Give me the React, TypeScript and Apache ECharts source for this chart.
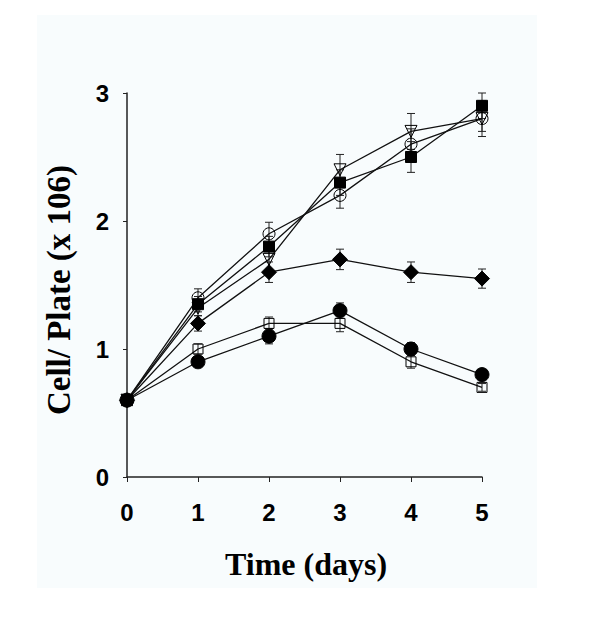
import React, { useEffect, useRef } from "react";
import * as echarts from "echarts";

const days = [0, 1, 2, 3, 4, 5];
const xTicks = ["0", "1", "2", "3", "4", "5"];
const yTicks = [0, 1, 2, 3];

const openCircle = [0.6, 1.4, 1.9, 2.2, 2.6, 2.8];
const openCircleErr = [0, 0.07, 0.09, 0.1, 0.12, 0.14];
const filledSquare = [0.6, 1.35, 1.8, 2.3, 2.5, 2.9];
const filledSquareErr = [0, 0.06, 0.08, 0.1, 0.12, 0.1];
const openTriangle = [0.6, 1.32, 1.7, 2.4, 2.7, 2.8];
const openTriangleErr = [0, 0.06, 0.08, 0.12, 0.14, 0.1];
const filledDiamond = [0.6, 1.2, 1.6, 1.7, 1.6, 1.55];
const filledDiamondErr = [0, 0.06, 0.08, 0.08, 0.08, 0.075];
const openSquare = [0.6, 1.0, 1.2, 1.2, 0.9, 0.7];
const openSquareErr = [0, 0.04, 0.05, 0.065, 0.05, 0.03];
const filledCircle = [0.6, 0.9, 1.1, 1.3, 1.0, 0.8];
const filledCircleErr = [0, 0.04, 0.06, 0.06, 0.05, 0.03];

const seriesDefs = [
  { name: "open circle", values: openCircle, err: openCircleErr, symbol: "circle", size: 12, filled: false, rotate: 0 },
  { name: "filled square", values: filledSquare, err: filledSquareErr, symbol: "rect", size: 11, filled: true, rotate: 0 },
  { name: "open triangle", values: openTriangle, err: openTriangleErr, symbol: "triangle", size: 12, filled: false, rotate: 180 },
  { name: "filled diamond", values: filledDiamond, err: filledDiamondErr, symbol: "diamond", size: 15, filled: true, rotate: 0 },
  { name: "open square", values: openSquare, err: openSquareErr, symbol: "rect", size: 10, filled: false, rotate: 0 },
  { name: "filled circle", values: filledCircle, err: filledCircleErr, symbol: "circle", size: 14, filled: true, rotate: 0 },
];

export default function App() {
  const ref = useRef<HTMLDivElement>(null);
  useEffect(() => {
    if (!ref.current) return;
    const chart = echarts.init(ref.current, undefined, { renderer: "svg" });

    const errSeries = seriesDefs.map((s) => ({
      type: "custom",
      name: s.name + " err",
      z: 1,
      data: days.map((d, i) => [d, s.values[i] - s.err[i], s.values[i] + s.err[i]]),
      renderItem: (params: any, api: any) => {
        const x = api.value(0);
        const lo = api.coord([x, api.value(1)]);
        const hi = api.coord([x, api.value(2)]);
        if (Math.abs(lo[1] - hi[1]) < 0.5) return { type: "group", children: [] };
        const hw = 4;
        const st = { stroke: "#222", lineWidth: 1 };
        return {
          type: "group",
          children: [
            { type: "line", shape: { x1: lo[0], y1: lo[1], x2: hi[0], y2: hi[1] }, style: st },
            { type: "line", shape: { x1: lo[0] - hw, y1: lo[1], x2: lo[0] + hw, y2: lo[1] }, style: st },
            { type: "line", shape: { x1: hi[0] - hw, y1: hi[1], x2: hi[0] + hw, y2: hi[1] }, style: st },
          ],
        };
      },
    }));

    const lineSeries = seriesDefs.map((s) => ({
      type: "line",
      name: s.name,
      z: 3,
      data: days.map((d, i) => [d, s.values[i]]),
      symbol: s.symbol,
      symbolSize: s.size,
      symbolRotate: s.rotate,
      showAllSymbol: true,
      lineStyle: { color: "#111", width: 1.3 },
      itemStyle: {
        color: s.filled ? "#000" : "rgba(0,0,0,0)",
        borderColor: "#000",
        borderWidth: 1,
      },
      emphasis: { disabled: true },
    }));

    chart.setOption({
      animation: false,
      backgroundColor: "#ffffff",
      graphic: [
        {
          type: "rect",
          z: -10,
          shape: { x: 37, y: 15, width: 500, height: 573 },
          style: { fill: "#f8fcfd" },
        },
        {
          type: "text",
          x: 306,
          y: 580,
          style: {
            text: "Time (days)",
            font: "bold 32px 'Liberation Serif', 'Times New Roman', serif",
            fill: "#000",
            textAlign: "center",
            textVerticalAlign: "bottom",
          },
        },
        {
          type: "text",
          x: 59,
          y: 290,
          rotation: Math.PI / 2,
          style: {
            text: "Cell/ Plate (x 106)",
            font: "bold 33px 'Liberation Serif', 'Times New Roman', serif",
            fill: "#000",
            textAlign: "center",
            textVerticalAlign: "middle",
          },
        },
      ],
      grid: { left: 127, top: 93, right: 118, bottom: 159, containLabel: false },
      xAxis: {
        type: "value",
        min: 0,
        max: 5,
        interval: 1,
        axisLine: { lineStyle: { color: "#222", width: 1.5 } },
        axisTick: { show: true, inside: false, length: 5, lineStyle: { color: "#222" } },
        splitLine: { show: false },
        axisLabel: {
          margin: 23,
          fontSize: 24,
          fontWeight: "bold",
          fontFamily: "'Liberation Sans', Arial, sans-serif",
          color: "#000",
          formatter: (v: number) => xTicks[Math.round(v)] ?? "",
        },
      },
      yAxis: {
        type: "value",
        min: yTicks[0],
        max: yTicks[yTicks.length - 1],
        interval: 1,
        axisLine: { show: true, lineStyle: { color: "#222", width: 1.5 } },
        axisTick: { show: true, inside: false, length: 4, lineStyle: { color: "#222" } },
        splitLine: { show: false },
        axisLabel: {
          margin: 18,
          fontSize: 24,
          fontWeight: "bold",
          fontFamily: "'Liberation Sans', Arial, sans-serif",
          color: "#000",
        },
      },
      series: [...errSeries, ...lineSeries],
    });
    return () => chart.dispose();
  }, []);
  return (
    <div
      ref={ref}
      style={{ position: "fixed", left: 0, top: 0, width: 600, height: 636 }}
    />
  );
}
